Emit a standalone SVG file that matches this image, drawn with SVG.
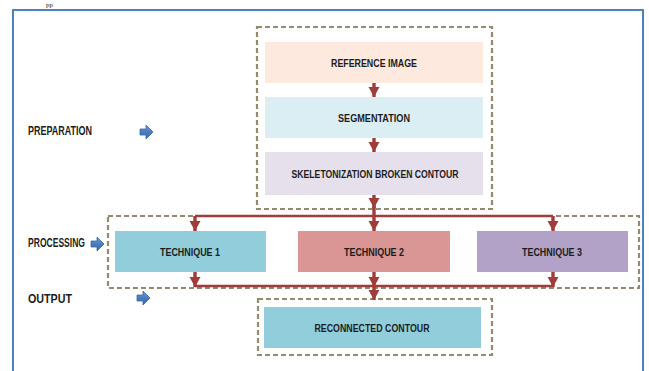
<svg xmlns="http://www.w3.org/2000/svg" width="649" height="371" viewBox="0 0 649 371">
  <defs>
    <style>
      .frame { fill: none; stroke: #4f81bd; stroke-width: 2; }
      .group { fill: none; stroke: #948b6c; stroke-width: 2.2; stroke-dasharray: 5 3; }
      .box { stroke: none; }
      .lbl { font-family: "Liberation Sans", Arial, sans-serif; font-weight: bold; font-size: 11.5px; fill: #1c1c1c; text-anchor: middle; }
      .side { font-family: "Liberation Sans", Arial, sans-serif; font-weight: bold; font-size: 12px; fill: #1c1c1c; }
      .wire { fill: none; stroke: #a03c3a; stroke-width: 2.6; }
      .stem { fill: none; stroke: #a03c3a; stroke-width: 3.4; }
      .blue { fill: url(#blueFill); stroke: #3b6aa3; stroke-width: 0.8; }
    </style>
    <linearGradient id="blueFill" x1="0" y1="0" x2="0" y2="1">
      <stop offset="0" stop-color="#6f9bd3"/>
      <stop offset="0.5" stop-color="#4a7dc0"/>
      <stop offset="1" stop-color="#3a68a6"/>
    </linearGradient>
    <marker id="head" markerUnits="userSpaceOnUse" markerWidth="12" markerHeight="12" viewBox="0 0 12 12" refX="11" refY="6" orient="auto">
      <path d="M1,0.5 L11,6 L1,11.5 Z" fill="#a03c3a"/>
    </marker>
    <path id="sideArrow" d="M0,-3 L6,-3 L6,-7 L13,0 L6,7 L6,3 L0,3 Z"/>
  </defs>

  <!-- tail of the page text running above the figure -->
  <text x="46" y="7" font-family="Liberation Serif, serif" font-size="7" fill="#111">pp</text>

  <!-- outer frame -->
  <rect class="frame" x="13" y="10" width="630" height="380"/>

  <!-- stage labels -->
  <g id="stage-labels">
    <text class="side" x="28" y="135" textLength="64" lengthAdjust="spacingAndGlyphs">PREPARATION</text>
    <use href="#sideArrow" class="blue" x="140" y="132"/>
    <text class="side" x="28" y="247" textLength="57" lengthAdjust="spacingAndGlyphs">PROCESSING</text>
    <use href="#sideArrow" class="blue" x="91" y="244"/>
    <text class="side" x="28" y="303" textLength="44" lengthAdjust="spacingAndGlyphs">OUTPUT</text>
    <use href="#sideArrow" class="blue" x="137" y="298"/>
  </g>

  <!-- dashed stage groups -->
  <g id="groups">
    <rect class="group" x="257" y="27" width="235" height="182"/>
    <rect class="group" x="108" y="216" width="531" height="72"/>
    <rect class="group" x="258" y="299" width="234" height="56"/>
  </g>

  <!-- connectors -->
  <g id="connectors">
    <line class="stem" x1="374" y1="83" x2="374" y2="97" marker-end="url(#head)"/>
    <line class="stem" x1="374" y1="138" x2="374" y2="152" marker-end="url(#head)"/>
    <line class="stem" x1="374" y1="195" x2="374" y2="208" marker-end="url(#head)"/>
    <line class="stem" x1="374" y1="206" x2="374" y2="216"/>
    <line class="wire" x1="195" y1="216" x2="553" y2="216"/>
    <line class="stem" x1="195" y1="216" x2="195" y2="231" marker-end="url(#head)"/>
    <line class="stem" x1="374" y1="216" x2="374" y2="231" marker-end="url(#head)"/>
    <line class="stem" x1="553" y1="216" x2="553" y2="231" marker-end="url(#head)"/>
    <line class="stem" x1="195" y1="272" x2="195" y2="287" marker-end="url(#head)"/>
    <line class="stem" x1="374" y1="272" x2="374" y2="287" marker-end="url(#head)"/>
    <line class="stem" x1="553" y1="272" x2="553" y2="287" marker-end="url(#head)"/>
    <line class="wire" x1="195" y1="286" x2="553" y2="286"/>
    <line class="stem" x1="374" y1="286" x2="374" y2="300" marker-end="url(#head)"/>
  </g>

  <!-- nodes -->
  <g id="reference-image">
    <rect class="box" x="265" y="42" width="218" height="41" fill="#fde9dd"/>
    <text class="lbl" x="374" y="67" textLength="86" lengthAdjust="spacingAndGlyphs">REFERENCE IMAGE</text>
  </g>
  <g id="segmentation">
    <rect class="box" x="265" y="97" width="218" height="41" fill="#dbeef4"/>
    <text class="lbl" x="374" y="122" textLength="72" lengthAdjust="spacingAndGlyphs">SEGMENTATION</text>
  </g>
  <g id="skeletonization">
    <rect class="box" x="265" y="152" width="218" height="43" fill="#e5e0ec"/>
    <text class="lbl" x="375" y="178" textLength="167" lengthAdjust="spacingAndGlyphs">SKELETONIZATION BROKEN CONTOUR</text>
  </g>
  <g id="technique-1">
    <rect class="box" x="115" y="231" width="151" height="41" fill="#92cddc"/>
    <text class="lbl" x="190" y="256" textLength="60" lengthAdjust="spacingAndGlyphs">TECHNIQUE 1</text>
  </g>
  <g id="technique-2">
    <rect class="box" x="298" y="231" width="152" height="41" fill="#d99694"/>
    <text class="lbl" x="374" y="256" textLength="60" lengthAdjust="spacingAndGlyphs">TECHNIQUE 2</text>
  </g>
  <g id="technique-3">
    <rect class="box" x="477" y="231" width="151" height="41" fill="#b2a2c7"/>
    <text class="lbl" x="552" y="256" textLength="60" lengthAdjust="spacingAndGlyphs">TECHNIQUE 3</text>
  </g>
  <g id="reconnected-contour">
    <rect class="box" x="264" y="307" width="217" height="41" fill="#92cddc"/>
    <text class="lbl" x="372" y="332" textLength="115" lengthAdjust="spacingAndGlyphs">RECONNECTED CONTOUR</text>
  </g>
</svg>
